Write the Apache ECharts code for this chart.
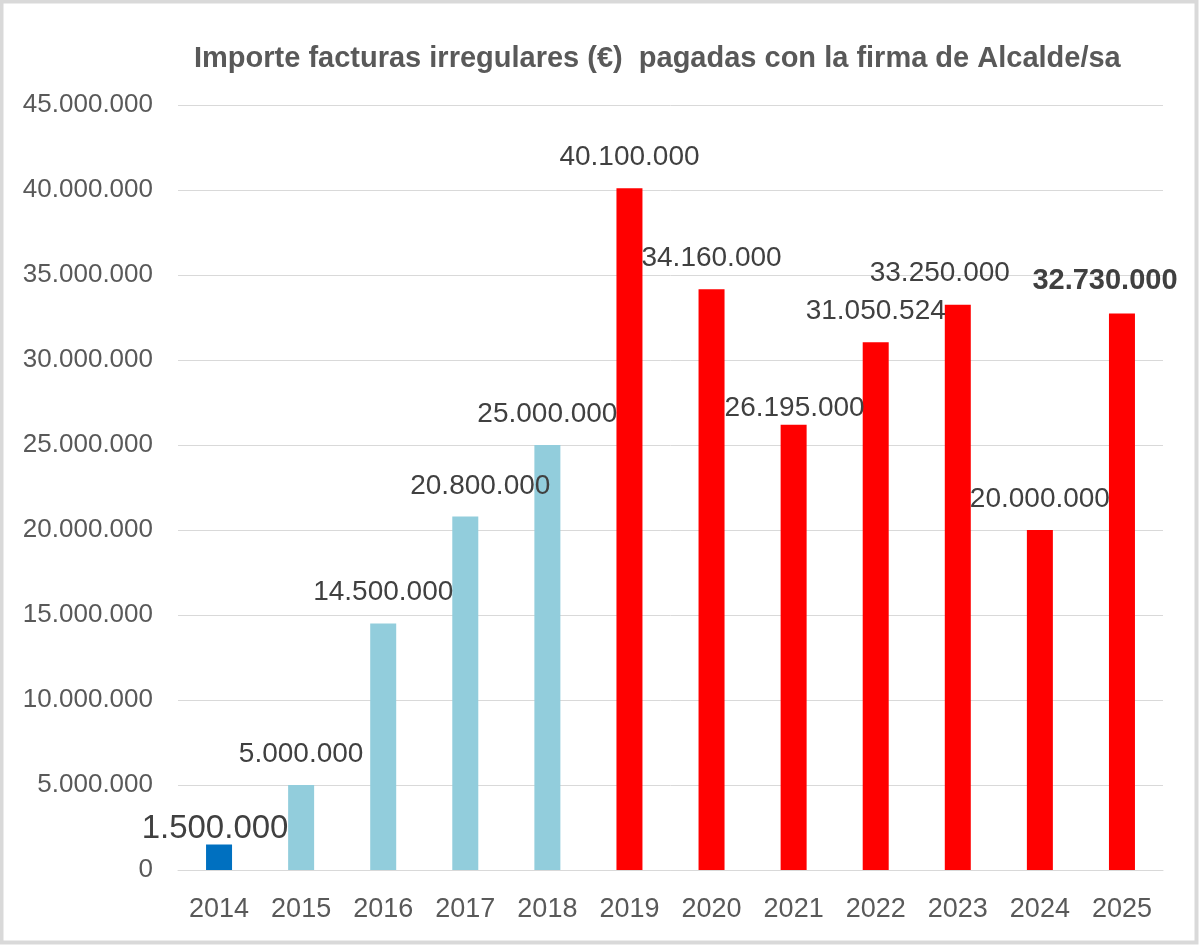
<!DOCTYPE html>
<html>
<head>
<meta charset="utf-8">
<script src="https://cdn.jsdelivr.net/npm/echarts@6/dist/echarts.min.js"></script>
<style>
html,body{margin:0;padding:0;background:#fff;}
#chart{width:1200px;height:946px;}
</style>
</head>
<body>
<div id="chart"></div>
<script>
const titleText = 'Importe facturas irregulares (€)  pagadas con la firma de Alcalde/sa';
const years = ['2014','2015','2016','2017','2018','2019','2020','2021','2022','2023','2024','2025'];
const amounts = [1500000, 5000000, 14500000, 20800000, 25000000, 40100000, 34160000, 26195000, 31050524, 33250000, 20000000, 32730000];
const groups = ['dark','light','light','light','light','red','red','red','red','red','red','red'];
const yTicks = [0, 5000000, 10000000, 15000000, 20000000, 25000000, 30000000, 35000000, 40000000, 45000000];

const groupColors = {dark:'#0070C0', light:'#92CDDC', red:'#FF0000'};
const labelAdjust = {
  0: {offset:[-4, 18], fontSize:33, color:'#404040'},
  3: {offset:[15, 1]},
  7: {offset:[1, 15]},
  9: {offset:[-18, 0]},
  11:{offset:[-17, -1], fontSize:29, fontWeight:'bold', color:'#404040'}
};

function fmt(v){
  return String(Math.round(v)).replace(/\B(?=(\d{3})+(?!\d))/g, '.');
}

const FONT = 'Liberation Sans';
const chart = echarts.init(document.getElementById('chart'), null, {renderer:'canvas'});

const seriesData = amounts.map((v, i) => {
  const adj = labelAdjust[i] || {};
  return {value: v, itemStyle: {color: groupColors[groups[i]]}, label: Object.assign({}, adj)};
});

chart.setOption({
  animation: false,
  backgroundColor: '#fff',
  title: {
    text: titleText,
    left: 189,
    top: 39,
    textStyle: {fontFamily: FONT, fontWeight: 'bold', fontSize: 29, color: '#595959'}
  },
  grid: {left: 178, right: 37, top: 105, bottom: 76, containLabel: false},
  xAxis: {
    type: 'category',
    data: years,
    axisLine: {lineStyle: {color: '#d9d9d9', width: 1}},
    axisTick: {show: false},
    axisLabel: {fontFamily: FONT, fontSize: 27, color: '#595959', margin: 26}
  },
  yAxis: {
    type: 'value',
    min: yTicks[0],
    max: yTicks[yTicks.length - 1],
    interval: yTicks[1] - yTicks[0],
    axisLine: {show: false},
    axisTick: {show: false},
    splitLine: {lineStyle: {color: '#d9d9d9', width: 1}},
    axisLabel: {fontFamily: FONT, fontSize: 26, color: '#595959', margin: 25, formatter: v => fmt(v)}
  },
  series: [{
    type: 'bar',
    data: seriesData,
    barWidth: 26,
    label: {
      show: true,
      position: 'top',
      distance: 17,
      fontFamily: FONT,
      fontSize: 28,
      color: '#404040',
      formatter: p => fmt(p.value)
    }
  }],
  graphic: [{
    type: 'rect',
    silent: true,
    shape: {x: 1.5, y: 1.5, width: 1195, height: 941},
    style: {fill: 'none', stroke: '#d9d9d9', lineWidth: 4},
    z: 100
  }]
});
</script>
</body>
</html>
